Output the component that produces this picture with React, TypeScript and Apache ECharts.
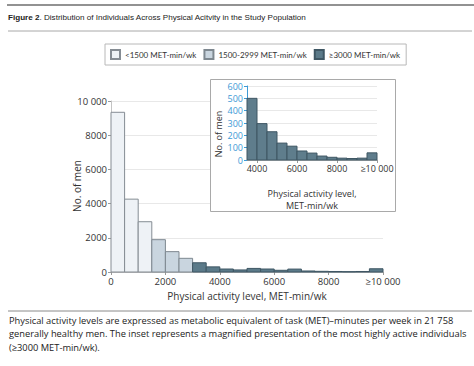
import React, { useEffect, useRef } from "react";
import * as echarts from "echarts";

// Main histogram: bin starts/ends (MET-min/wk) and counts
const mainBinStart = [0, 500, 1000, 1500, 2000, 2500, 3000, 3500, 4000, 4500, 5000, 5500, 6000, 6500, 7000, 7500, 8000, 8500, 9000, 9500];
const mainBinEnd = [500, 1000, 1500, 2000, 2500, 3000, 3500, 4000, 4500, 5000, 5500, 6000, 6500, 7000, 7500, 8000, 8500, 9000, 9500, 10000];
const mainCounts = [9340, 4260, 2940, 1890, 1190, 800, 540, 300, 175, 120, 210, 175, 100, 170, 60, 40, 30, 20, 30, 190];
const mainGroup = ["low", "low", "low", "mid", "mid", "mid", "high", "high", "high", "high", "high", "high", "high", "high", "high", "high", "high", "high", "high", "high"];

// Inset histogram (most active)
const insetBinStart = [3500, 4000, 4500, 5000, 5500, 6000, 6500, 7000, 7500, 8000, 8500, 9000, 9500];
const insetBinEnd = [4000, 4500, 5000, 5500, 6000, 6500, 7000, 7500, 8000, 8500, 9000, 9500, 10000];
const insetCounts = [500, 295, 229, 137, 112, 73, 56, 32, 22, 15, 12, 15, 58];

const legendNames = ["<1500 MET-min/wk", "1500-2999 MET-min/wk", "≥3000 MET-min/wk"];
const groupKeys = ["low", "mid", "high"];
const groupFill = ["#eef2f6", "#c9d5df", "#5b7a89"];
const groupStroke = ["#858c93", "#7e8890", "#3f5764"];

const mainXTicks = [0, 2000, 4000, 6000, 8000, 10000];
const insetXTicks = [4000, 6000, 8000, 10000];

const FONT = "'Open Sans', 'Noto Sans', sans-serif";
const LEG_FONT = "Lato, 'Open Sans', sans-serif";

function fmtThousands(v: number) {
  return v >= 10000 ? String(v).replace(/(\d)(?=(\d{3})+$)/g, "$1 ") : String(v);
}

export default function App() {
  const ref = useRef<HTMLDivElement>(null);
  useEffect(() => {
    if (!ref.current) return;
    const chart = echarts.init(ref.current, null, { renderer: "svg" });

    const rectItem = (fill: string, stroke: string) => (params: any, api: any) => {
      const x0 = api.value(0);
      const x1 = api.value(1);
      const y = api.value(2);
      const p0 = api.coord([x0, y]);
      const p1 = api.coord([x1, 0]);
      return {
        type: "rect",
        shape: { x: p0[0], y: p0[1], width: p1[0] - p0[0], height: p1[1] - p0[1] },
        style: { fill, stroke, lineWidth: 1 },
      };
    };

    const mainSeries = groupKeys.map((g, gi) => ({
      type: "custom",
      name: legendNames[gi],
      xAxisIndex: 0,
      yAxisIndex: 0,
      z: 2,
      itemStyle: { color: groupFill[gi], borderColor: groupStroke[gi], borderWidth: 1 },
      encode: { x: [0, 1], y: 2 },
      renderItem: rectItem(groupFill[gi], groupStroke[gi]),
      data: mainBinStart
        .map((s, i) => (mainGroup[i] === g ? [s, mainBinEnd[i], mainCounts[i]] : null))
        .filter((d) => d !== null),
    }));

    const insetSeries = {
      type: "custom",
      name: "inset",
      xAxisIndex: 1,
      yAxisIndex: 1,
      z: 12,
      encode: { x: [0, 1], y: 2 },
      renderItem: rectItem("#5f7d8c", "#3e5663"),
      data: insetBinStart.map((s, i) => [s, insetBinEnd[i], insetCounts[i]]),
    };

    const option: any = {
      animation: false,
      textStyle: { fontFamily: FONT },
      legend: {
        data: legendNames.map((n) => ({ name: n, icon: "rect" })),
        left: 105,
        top: 44,
        width: 420,
        padding: [5, 6, 5, 5],
        itemWidth: 9,
        itemHeight: 9,
        itemGap: 7,
        borderColor: "#b8b8b8",
        borderWidth: 1,
        selectedMode: false,
        textStyle: { fontFamily: LEG_FONT, fontSize: 8, color: "#333" },
      },
      grid: [
        { left: 111, top: 101, width: 272, height: 171, containLabel: false },
        { left: 247, top: 86, width: 130, height: 74, containLabel: false },
      ],
      xAxis: [
        {
          type: "value",
          gridIndex: 0,
          min: 0,
          max: 10000,
          interval: 2000,
          axisLine: { show: true, lineStyle: { color: "#bdbdbd" } },
          axisTick: { show: true, length: 3, lineStyle: { color: "#999" } },
          splitLine: { show: false },
          axisLabel: {
            customValues: mainXTicks,
            color: "#333",
            fontSize: 9.5,
            fontFamily: FONT,
            margin: 4,
            formatter: (v: number) => (v === 10000 ? "≥10 000" : String(v)),
          },
          z: 0,
        },
        {
          type: "value",
          gridIndex: 1,
          min: 3500,
          max: 10000,
          axisLine: { show: true, lineStyle: { color: "#bdbdbd" } },
          axisTick: { show: true, customValues: insetXTicks, length: 3, lineStyle: { color: "#999" } },
          splitLine: { show: false },
          axisLabel: {
            customValues: insetXTicks,
            color: "#333",
            fontSize: 9,
            fontFamily: FONT,
            margin: 4,
            formatter: (v: number) => (v === 10000 ? "≥10 000" : String(v)),
          },
          z: 11,
        },
      ],
      yAxis: [
        {
          type: "value",
          gridIndex: 0,
          min: 0,
          max: 10000,
          interval: 2000,
          axisLine: { show: true, lineStyle: { color: "#c4c4c4" } },
          axisTick: { show: true, length: 3, lineStyle: { color: "#999" } },
          splitLine: { show: true, lineStyle: { color: "#e8e8e8" } },
          axisLabel: { color: "#333", fontSize: 9.5, fontFamily: FONT, margin: 4, formatter: (v: number) => fmtThousands(v) },
          z: 0,
        },
        {
          type: "value",
          gridIndex: 1,
          min: 0,
          max: 600,
          interval: 100,
          axisLine: { show: true, lineStyle: { color: "#3d9ad6" } },
          axisTick: { show: true, length: 3, lineStyle: { color: "#3d9ad6" } },
          splitLine: { show: true, lineStyle: { color: "#e8e8e8" } },
          axisLabel: { color: "#3d9ad6", fontSize: 9, fontFamily: FONT, margin: 4 },
          z: 11,
        },
      ],
      graphic: [
        { type: "line", z: 100, shape: { x1: 7, y1: 5, x2: 474, y2: 5 }, style: { stroke: "#6e6e6e", lineWidth: 1.5 } },
        {
          type: "text",
          z: 100,
          x: 8,
          y: 17,
          style: {
            text: "{b|Figure 2}. Distribution of Individuals Across Physical Acitvity in the Study Population",
            fontFamily: "'Liberation Sans', Arial, sans-serif",
            fontSize: 8.1,
            fill: "#222",
            verticalAlign: "middle",
            rich: { b: { fontWeight: "bold", fontSize: 8.1, fontFamily: "'Liberation Sans', Arial, sans-serif" } },
          },
        },
        { type: "line", z: 100, shape: { x1: 8, y1: 31, x2: 472, y2: 31 }, style: { stroke: "#a8a8a8", lineWidth: 1 } },
        {
          type: "rect",
          z: 8,
          shape: { x: 210.5, y: 79.5, width: 185, height: 132 },
          style: { fill: "#ffffff", stroke: "#a9a9a9", lineWidth: 1 },
        },
        {
          type: "text",
          z: 100,
          x: 77,
          y: 186,
          rotation: Math.PI / 2,
          style: { text: "No. of men", fontFamily: FONT, fontSize: 10, fill: "#333", align: "center", verticalAlign: "middle" },
        },
        {
          type: "text",
          z: 100,
          x: 247,
          y: 296,
          style: { text: "Physical activity level, MET-min/wk", fontFamily: FONT, fontSize: 10, fill: "#333", align: "center", verticalAlign: "middle" },
        },
        {
          type: "text",
          z: 100,
          x: 218,
          y: 134,
          rotation: Math.PI / 2,
          style: { text: "No. of men", fontFamily: FONT, fontSize: 9, fill: "#333", align: "center", verticalAlign: "middle" },
        },
        {
          type: "text",
          z: 100,
          x: 312,
          y: 199,
          style: {
            text: "Physical activity level,\nMET-min/wk",
            fontFamily: FONT,
            fontSize: 9,
            lineHeight: 12,
            fill: "#333",
            align: "center",
            verticalAlign: "middle",
          },
        },
        { type: "line", z: 100, shape: { x1: 8, y1: 311, x2: 472, y2: 311 }, style: { stroke: "#8a8a8a", lineWidth: 1 } },
        {
          type: "text",
          z: 100,
          x: 9,
          y: 313.5,
          style: {
            text:
              "Physical activity levels are expressed as metabolic equivalent of task (MET)–minutes per week in 21 758\ngenerally healthy men. The inset represents a magnified presentation of the most highly active individuals\n(≥3000 MET-min/wk).",
            fontFamily: FONT,
            fontSize: 9.3,
            lineHeight: 13.5,
            fill: "#222",
            verticalAlign: "top",
          },
        },
      ],
      series: [...mainSeries, insetSeries],
    };
    chart.setOption(option);
    return () => chart.dispose();
  }, []);
  return <div ref={ref} style={{ width: 474, height: 366, position: "absolute", left: 0, top: 0, background: "#fff" }} />;
}
